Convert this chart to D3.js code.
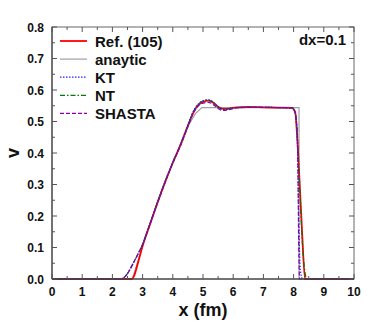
<!DOCTYPE html>
<html>
<head>
<meta charset="utf-8">
<script src="https://cdn.jsdelivr.net/npm/d3@7"></script>
<style>
  body { margin: 0; background: #fff; }
  text { font-family: "Liberation Sans", Arial, sans-serif; font-weight: bold; fill: #111; }
</style>
</head>
<body>
<svg id="chart" width="382" height="331"></svg>
<script>
// tick values
const xTicks = [0, 1, 2, 3, 4, 5, 6, 7, 8, 9, 10];
const yTicks = [0.0, 0.1, 0.2, 0.3, 0.4, 0.5, 0.6, 0.7, 0.8];

// analytic solution
const analyticX = [0, 2.66, 3.0, 3.5, 4.0, 4.5, 4.75, 4.96, 8.18, 8.18, 10];
const analyticV = [0, 0, 0.105, 0.245, 0.37, 0.485, 0.525, 0.544, 0.544, 0, 0];

// Ref. (105)
const refX = [0, 2.64, 2.72, 2.8, 2.9, 3.0, 3.25, 3.5, 3.75, 4.0, 4.25, 4.5, 4.7, 4.85, 5.0, 5.18, 5.35, 5.5, 5.67, 5.85, 6.1, 6.5, 7.0, 7.5, 7.95, 8.05, 8.15, 8.28, 8.38, 10];
const refV = [0, 0, 0.01, 0.035, 0.07, 0.105, 0.175, 0.244, 0.309, 0.369, 0.424, 0.486, 0.532, 0.553, 0.562, 0.566, 0.559, 0.547, 0.54, 0.541, 0.545, 0.546, 0.545, 0.544, 0.543, 0.53, 0.4, 0.15, 0, 0];

// KT
const ktX = [0, 2.25, 2.4, 2.55, 2.7, 2.85, 3.0, 3.25, 3.5, 3.75, 4.0, 4.25, 4.5, 4.7, 4.85, 5.0, 5.18, 5.35, 5.5, 5.67, 5.85, 6.1, 6.5, 7.0, 7.5, 7.95, 8.05, 8.12, 8.17, 8.22, 8.3, 10];
const ktV = [0, 0, 0.006, 0.025, 0.052, 0.08, 0.11, 0.177, 0.246, 0.311, 0.371, 0.426, 0.489, 0.536, 0.556, 0.566, 0.569, 0.561, 0.546, 0.538, 0.54, 0.544, 0.545, 0.545, 0.544, 0.543, 0.53, 0.45, 0.2, 0.03, 0, 0];

// NT
const ntX = [0, 2.25, 2.4, 2.55, 2.7, 2.85, 3.0, 3.25, 3.5, 3.75, 4.0, 4.25, 4.5, 4.7, 4.85, 5.0, 5.18, 5.35, 5.5, 5.67, 5.85, 6.1, 6.5, 7.0, 7.5, 7.95, 8.05, 8.12, 8.2, 8.3, 8.38, 8.43, 10];
const ntV = [0, 0, 0.006, 0.025, 0.052, 0.08, 0.11, 0.177, 0.245, 0.31, 0.37, 0.425, 0.488, 0.535, 0.555, 0.565, 0.568, 0.56, 0.546, 0.539, 0.54, 0.544, 0.545, 0.545, 0.544, 0.543, 0.528, 0.45, 0.3, 0.1, 0.02, 0, 0];

// SHASTA
const shX = [0, 2.25, 2.4, 2.55, 2.7, 2.85, 3.0, 3.25, 3.5, 3.75, 4.0, 4.25, 4.5, 4.7, 4.85, 5.0, 5.18, 5.35, 5.5, 5.67, 5.85, 6.1, 6.5, 7.0, 7.5, 7.95, 8.05, 8.13, 8.17, 8.2, 10];
const shV = [0, 0, 0.006, 0.025, 0.052, 0.08, 0.109, 0.175, 0.243, 0.308, 0.368, 0.422, 0.484, 0.53, 0.55, 0.558, 0.561, 0.553, 0.541, 0.535, 0.537, 0.543, 0.545, 0.545, 0.544, 0.543, 0.528, 0.45, 0.1, 0, 0];

const series = [
  {name: "Ref. (105)", xs: refX, ys: refV, color: "#ff0000", width: 1.8, dash: null, curve: d3.curveMonotoneX},
  {name: "anaytic", xs: analyticX, ys: analyticV, color: "#a0a0a0", width: 1.2, dash: null, curve: d3.curveLinear},
  {name: "KT", xs: ktX, ys: ktV, color: "#2020ff", width: 1.2, dash: "1.5,1.5", curve: d3.curveMonotoneX},
  {name: "NT", xs: ntX, ys: ntV, color: "#007a00", width: 1.2, dash: "5,2,1.5,2", curve: d3.curveMonotoneX},
  {name: "SHASTA", xs: shX, ys: shV, color: "#8a00a8", width: 1.2, dash: "4,2", curve: d3.curveMonotoneX}
];

const margin = {left: 52, right: 28, top: 27, bottom: 52};
const svg = d3.select("#chart");
const W = 382, H = 331;
const x = d3.scaleLinear().domain([0, 10]).range([margin.left, W - margin.right]);
const y = d3.scaleLinear().domain([0, 0.8]).range([H - margin.bottom, margin.top]);

// curves (drawn first so the frame sits on top)
const order = [1, 0, 3, 2, 4];
order.forEach(i => {
  let s = series[i];
  let line = d3.line().x(d => x(d[0])).y(d => y(d[1])).curve(s.curve);
  svg.append("path")
    .datum(s.xs.map((v, k) => [v, s.ys[k]]))
    .attr("d", line)
    .attr("fill", "none")
    .attr("stroke", s.color)
    .attr("stroke-width", s.width)
    .attr("stroke-dasharray", s.dash);
});

// frame
svg.append("rect")
  .attr("x", x(0)).attr("y", y(0.8))
  .attr("width", x(10) - x(0)).attr("height", y(0) - y(0.8))
  .attr("fill", "none").attr("stroke", "#666").attr("stroke-width", 1);
svg.append("line").attr("x1", x(0)).attr("x2", x(0)).attr("y1", y(0)).attr("y2", y(0.8))
  .attr("stroke", "#333");
svg.append("line").attr("x1", x(0)).attr("x2", x(10)).attr("y1", y(0)).attr("y2", y(0))
  .attr("stroke", "#333");

// inward ticks on all four sides
const xMinor = d3.range(0, 10.01, 0.5);
const yMinor = d3.range(0, 0.801, 0.05);
const tickG = svg.append("g").attr("stroke", "#555").attr("stroke-width", 1);
xMinor.forEach(v => {
  let len = Math.abs(v - Math.round(v)) < 1e-6 ? 5 : 3;
  tickG.append("line").attr("x1", x(v)).attr("x2", x(v)).attr("y1", y(0)).attr("y2", y(0) - len);
  tickG.append("line").attr("x1", x(v)).attr("x2", x(v)).attr("y1", y(0.8)).attr("y2", y(0.8) + len);
});
yMinor.forEach(v => {
  let len = Math.abs(v * 10 - Math.round(v * 10)) < 1e-6 ? 5 : 3;
  tickG.append("line").attr("x1", x(0)).attr("x2", x(0) + len).attr("y1", y(v)).attr("y2", y(v));
  tickG.append("line").attr("x1", x(10)).attr("x2", x(10) - len).attr("y1", y(v)).attr("y2", y(v));
});

// tick labels
svg.append("g").selectAll("text").data(xTicks).join("text")
  .attr("x", d => x(d)).attr("y", y(0) + 17)
  .attr("text-anchor", "middle").attr("font-size", 12)
  .text(d => d);
svg.append("g").selectAll("text").data(yTicks).join("text")
  .attr("x", x(0) - 8).attr("y", d => y(d) + 4.5)
  .attr("text-anchor", "end").attr("font-size", 12)
  .text(d => d.toFixed(1));

// axis titles
svg.append("text").attr("x", x(5)).attr("y", 316)
  .attr("text-anchor", "middle").attr("font-size", 18).text("x (fm)");
svg.append("text").attr("transform", "translate(19," + y(0.4) + ") rotate(-90)")
  .attr("text-anchor", "middle").attr("font-size", 18).text("v");

// annotation
svg.append("text").attr("x", x(10) - 8).attr("y", 45)
  .attr("text-anchor", "end").attr("font-size", 15).text("dx=0.1");

// legend
const leg = svg.append("g");
series.forEach((s, i) => {
  let ly = 41 + i * 18.1;
  leg.append("line").attr("x1", 60).attr("x2", 87).attr("y1", ly).attr("y2", ly)
    .attr("stroke", s.color).attr("stroke-width", s.width).attr("stroke-dasharray", s.dash);
  leg.append("text").attr("x", 95).attr("y", ly + 5.5).attr("font-size", 15).text(s.name);
});
</script>
</body>
</html>
